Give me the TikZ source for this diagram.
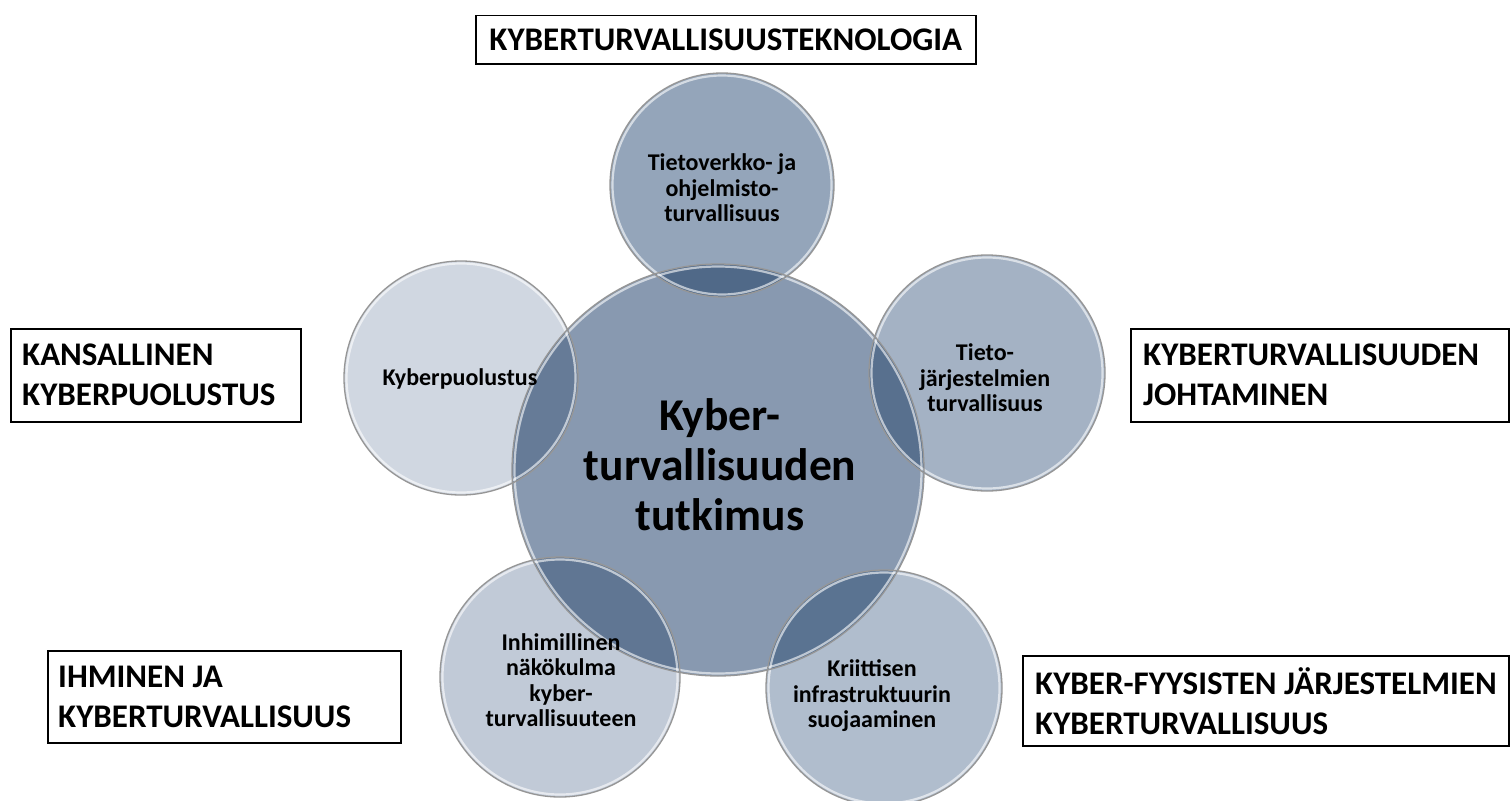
\documentclass[tikz,border=0pt]{standalone}
\usepackage{fontspec}
\setmainfont{Carlito}
\definecolor{fC}{RGB}{136,153,176}
\definecolor{fT}{RGB}{148,165,186}
\definecolor{fL}{RGB}{208,215,225}
\definecolor{fR}{RGB}{164,178,196}
\definecolor{fBL}{RGB}{193,202,215}
\definecolor{fBR}{RGB}{176,189,205}
\definecolor{oT}{RGB}{80,105,136}
\definecolor{oL}{RGB}{102,123,151}
\definecolor{oR}{RGB}{88,112,142}
\definecolor{oBL}{RGB}{96,118,147}
\definecolor{oBR}{RGB}{90,115,145}
\definecolor{rimgray}{RGB}{150,150,150}
\begin{document}
\begin{tikzpicture}[x=1pt,y=-1pt,
  rim/.style={draw=rimgray, line width=1.3pt},
  hilite/.style={draw=white, draw opacity=0.6, line width=2.2pt},
  ctext/.style={font=\bfseries\fontsize{24}{25.5}\selectfont, align=center, inner sep=0pt},
  bigtext/.style={font=\bfseries\fontsize{45.5}{50}\selectfont, align=center, inner sep=0pt},
  boxst/.style={draw=black, line width=1.5pt, fill=white, inner sep=0pt, anchor=north west},
  boxtxt/.style={font=\bfseries\fontsize{33}{40}\selectfont, align=left, inner sep=0pt, anchor=west},
]
\useasboundingbox (0,0) rectangle (1511,800);
\fill[white] (0,0) rectangle (1511,800);

% centres
\coordinate (C) at (718,470);
\coordinate (T) at (722,185);
\coordinate (L) at (461,378);
\coordinate (R) at (987,373);
\coordinate (BL) at (560,677);
\coordinate (BR) at (884,688);

% fills
\fill[fC] (C) circle (206);
\fill[fT] (T) circle (112);
\fill[fL] (L) circle (117);
\fill[fR] (R) circle (118);
\fill[fBL] (BL) circle (120);
\fill[fBR] (BR) circle (118);

% overlaps
\begin{scope}\clip (C) circle (206); \fill[oT] (T) circle (112); \end{scope}
\begin{scope}\clip (C) circle (206); \fill[oL] (L) circle (117); \end{scope}
\begin{scope}\clip (C) circle (206); \fill[oR] (R) circle (118); \end{scope}
\begin{scope}\clip (C) circle (206); \fill[oBL] (BL) circle (120); \end{scope}
\begin{scope}\clip (C) circle (206); \fill[oBR] (BR) circle (118); \end{scope}

% rims
\draw[hilite] (C) circle (203.5);
\draw[hilite] (T) circle (109.5);
\draw[hilite] (L) circle (114.5);
\draw[hilite] (R) circle (115.5);
\draw[hilite] (BL) circle (117.5);
\draw[hilite] (BR) circle (115.5);
\draw[rim] (C) circle (206);
\draw[rim] (T) circle (112);
\draw[rim] (L) circle (117);
\draw[rim] (R) circle (118);
\draw[rim] (BL) circle (120);
\draw[rim] (BR) circle (118);

% circle texts
\node[bigtext] (tC) at (720,465) {Kyber-\\turvallisuuden\\tutkimus};
\node[ctext] (tT) at (722,188) {Tietoverkko- ja\\ohjelmisto-\\turvallisuus};
\node[ctext] (tL) at (460,379) {Kyberpuolustus};
\node[ctext] (tR) at (985,378) {Tieto-\\järjestelmien\\turvallisuus};
\node[ctext] (tBL) at (561,680) {Inhimillinen\\näkökulma\\kyber-\\turvallisuuteen};
\node[ctext] (tBR) at (872,696) {Kriittisen\\infrastruktuurin\\suojaaminen};

% boxes
\node[boxst, minimum width=500pt, minimum height=48pt] (bT) at (475,15) {};
\node[font=\bfseries\fontsize{33}{36}\selectfont, inner sep=0pt] (bTt) at (bT.center) {KYBERTURVALLISUUSTEKNOLOGIA};

\node[boxst, minimum width=290pt, minimum height=93pt] (bL) at (10,328) {};
\node[boxtxt] (bLt) at ([xshift=12pt]bL.west) {KANSALLINEN\\KYBERPUOLUSTUS};

\node[boxst, minimum width=378pt, minimum height=93pt] (bR) at (1130,328) {};
\node[boxtxt] (bRt) at ([xshift=13pt]bR.west) {KYBERTURVALLISUUDEN\\JOHTAMINEN};

\node[boxst, minimum width=353pt, minimum height=92pt] (bBL) at (47,650) {};
\node[boxtxt] (bBLt) at ([xshift=11pt]bBL.west) {IHMINEN JA\\KYBERTURVALLISUUS};

\node[boxst, minimum width=486pt, minimum height=90pt] (bBR) at (1022,655) {};
\node[boxtxt] (bBRt) at ([xshift=13pt]bBR.west) {KYBER-FYYSISTEN JÄRJESTELMIEN\\KYBERTURVALLISUUS};
\end{tikzpicture}
\end{document}
